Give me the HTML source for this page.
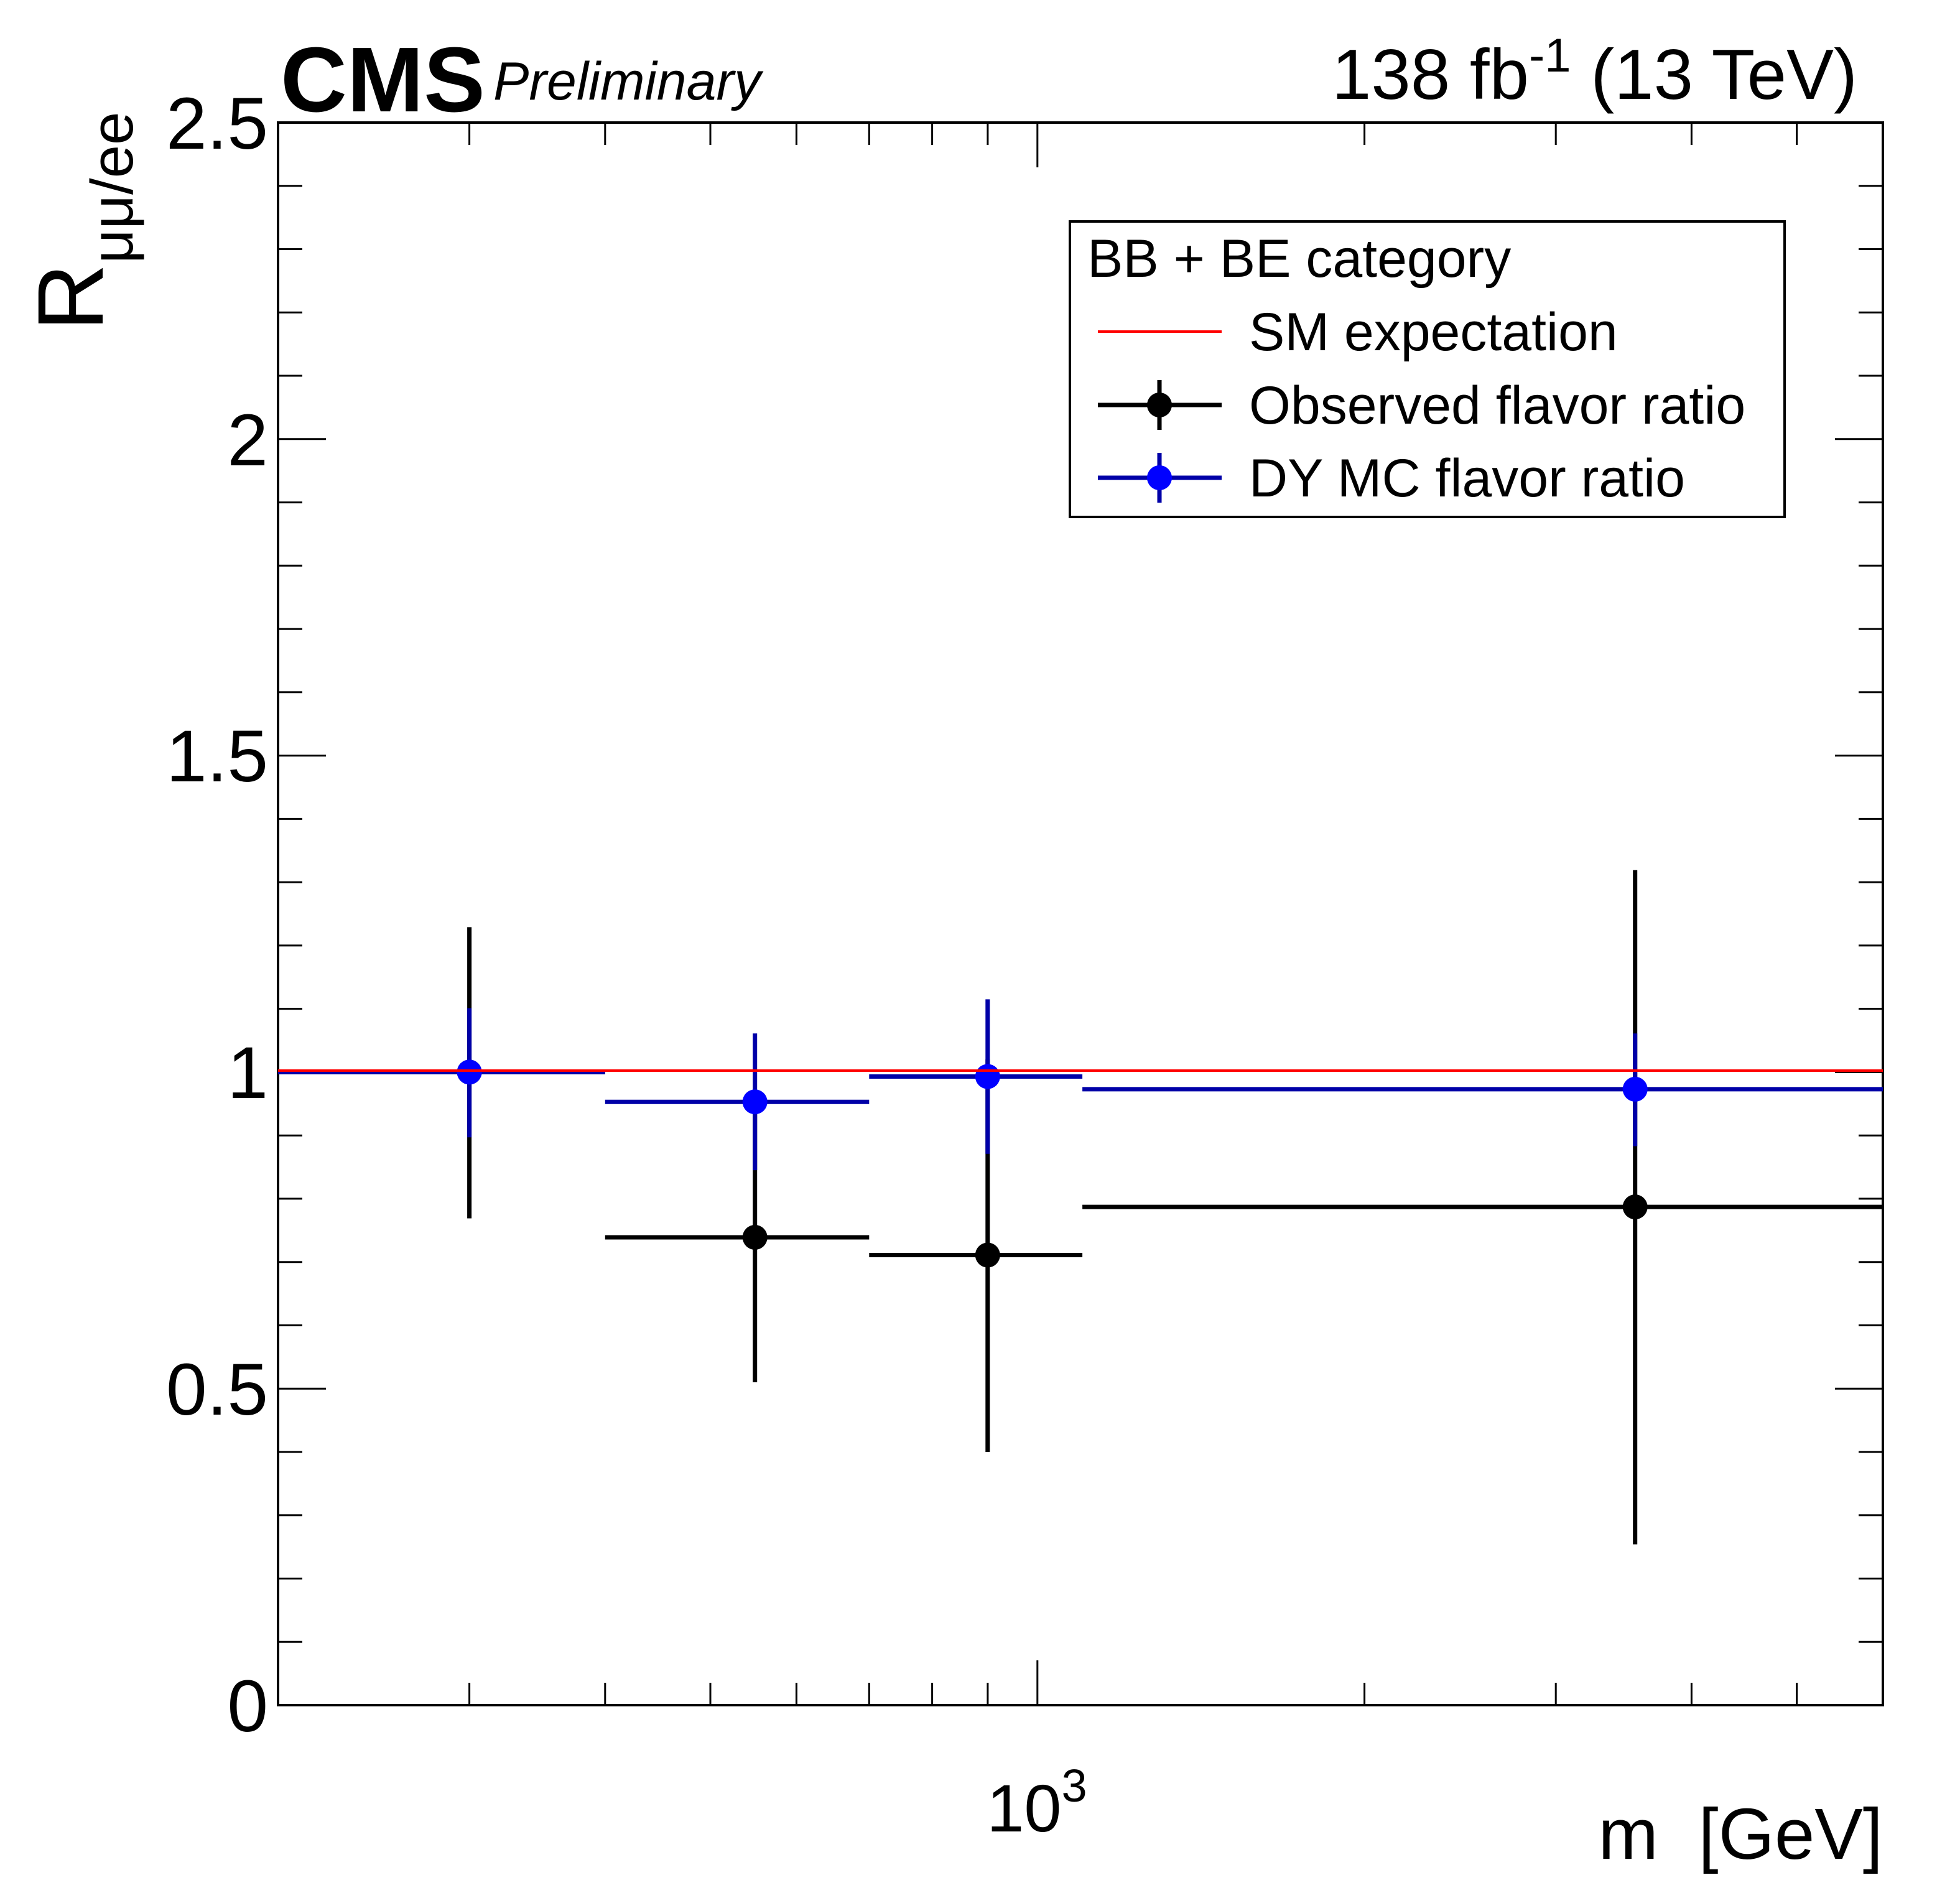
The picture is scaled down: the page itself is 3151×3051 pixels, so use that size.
<!DOCTYPE html>
<html><head><meta charset="utf-8"><style>
html,body{margin:0;padding:0;background:#fff;}
svg{display:block;font-family:"Liberation Sans",sans-serif;}
</style></head><body>
<svg width="3151" height="3051" viewBox="0 0 3151 3051" xmlns="http://www.w3.org/2000/svg">
<rect width="3151" height="3051" fill="#fff"/>
<!-- frame -->
<rect x="447" y="197" width="2580" height="2544" fill="none" stroke="#000" stroke-width="4"/>
<g stroke="#000" stroke-width="3">
<path d="M447 2741h77M447 2232.2h77M447 1723.4h77M447 1214.6h77M447 705.8h77M447 197h77
M3027 2741h-77M3027 2232.2h-77M3027 1723.4h-77M3027 1214.6h-77M3027 705.8h-77M3027 197h-77"/>
<path d="M447 2639.2h39M447 2537.5h39M447 2435.7h39M447 2334h39M447 2130.4h39M447 2028.7h39M447 1926.9h39M447 1825.2h39M447 1621.6h39M447 1519.9h39M447 1418.1h39M447 1316.4h39M447 1112.8h39M447 1011.1h39M447 909.3h39M447 807.6h39M447 604h39M447 502.3h39M447 400.5h39M447 298.8h39
M3027 2639.2h-39M3027 2537.5h-39M3027 2435.7h-39M3027 2334h-39M3027 2130.4h-39M3027 2028.7h-39M3027 1926.9h-39M3027 1825.2h-39M3027 1621.6h-39M3027 1519.9h-39M3027 1418.1h-39M3027 1316.4h-39M3027 1112.8h-39M3027 1011.1h-39M3027 909.3h-39M3027 807.6h-39M3027 604h-39M3027 502.3h-39M3027 400.5h-39M3027 298.8h-39"/>
<path d="M1667.8 2741v-72M1667.8 197v72"/>
<path d="M754.6 2741v-36M972.8 2741v-36M1142 2741v-36M1280.4 2741v-36M1397.3 2741v-36M1498.6 2741v-36M1587.9 2741v-36M2193.6 2741v-36M2501.2 2741v-36M2719.4 2741v-36M2888.6 2741v-36
M754.6 197v36M972.8 197v36M1142 197v36M1280.4 197v36M1397.3 197v36M1498.6 197v36M1587.9 197v36M2193.6 197v36M2501.2 197v36M2719.4 197v36M2888.6 197v36"/>
</g>
<g font-size="118" text-anchor="end" fill="#000">
<text x="431" y="2783">0</text>
<text x="431" y="2274">0.5</text>
<text x="431" y="1765">1</text>
<text x="431" y="1256">1.5</text>
<text x="431" y="748">2</text>
<text x="431" y="239">2.5</text>
</g>
<text x="1667" y="2944" font-size="108" text-anchor="middle">10<tspan font-size="74" dy="-48">3</tspan></text>
<text x="3027" y="2988" font-size="116" text-anchor="end">m&#160;&#160;[GeV]</text>
<text transform="translate(165,532) rotate(-90)" font-size="150">R<tspan font-size="96" dy="48">μμ/ee</tspan></text>
<text x="451" y="179" font-size="148" font-weight="bold">CMS</text>
<text x="793" y="160" font-size="86" font-style="italic">Preliminary</text>
<text x="2986" y="159" font-size="114" text-anchor="end">138 fb<tspan font-size="76" dy="-44">-1</tspan><tspan dy="44"> (13 TeV)</tspan></text>
<g stroke="#000" stroke-width="7" fill="none">
<path d="M447 1723.4H972.8M754.6 1958.5V1490.4"/>
<path d="M972.8 1989H1397.3M1213.7 2222V1753.9"/>
<path d="M1397.3 2017.5H1740.1M1587.8 2334V1703"/>
<path d="M1740.1 1940.1H3027M2628.7 2482.5V1398.8"/>
</g>
<g fill="#000">
<circle cx="754.6" cy="1723.4" r="20"/>
<circle cx="1213.7" cy="1989" r="20"/>
<circle cx="1587.8" cy="2017.5" r="20"/>
<circle cx="2628.7" cy="1940.1" r="20"/>
</g>
<g stroke="#0000a8" stroke-width="7" fill="none">
<path d="M447 1723.4H972.8M754.6 1828.2V1620.6"/>
<path d="M972.8 1771.2H1397.3M1213.7 1881.1V1661.3"/>
<path d="M1397.3 1730.5H1740.1M1587.8 1854.7V1606.4"/>
<path d="M1740.1 1750.9H3027M2628.7 1842.5V1661.3"/>
</g>
<g fill="#0000ff">
<circle cx="754.6" cy="1723.4" r="20"/>
<circle cx="1213.7" cy="1771.2" r="20"/>
<circle cx="1587.8" cy="1730.5" r="20"/>
<circle cx="2628.7" cy="1750.9" r="20"/>
</g>
<path d="M447 1721H3027" stroke="#ff0000" stroke-width="4"/>
<rect x="1720" y="356" width="1149" height="475" fill="#fff" stroke="#000" stroke-width="4"/>
<g font-size="86" fill="#000">
<text x="1748" y="445">BB + BE category</text>
<text x="2008" y="563">SM expectation</text>
<text x="2008" y="681">Observed flavor ratio</text>
<text x="2008" y="798">DY MC flavor ratio</text>
</g>
<path d="M1765 533H1964" stroke="#ff0000" stroke-width="4"/>
<path d="M1765 651H1964M1864 611V691" stroke="#000" stroke-width="7"/>
<circle cx="1864" cy="651" r="20" fill="#000"/>
<path d="M1765 768H1964M1864 728V808" stroke="#0000a8" stroke-width="7"/>
<circle cx="1864" cy="768" r="20" fill="#0000ff"/>
</svg>
</body></html>
